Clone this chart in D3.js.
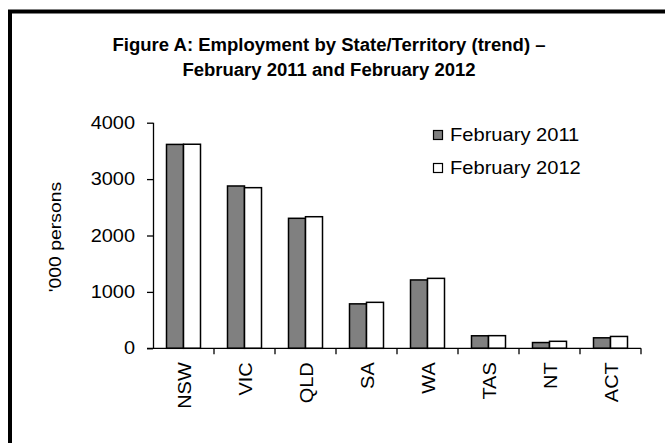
<!DOCTYPE html>
<html>
<head>
<meta charset="utf-8">
<script src="https://cdn.jsdelivr.net/npm/d3@7"></script>
<style>
  html, body { margin: 0; padding: 0; background: #fff; }
  svg { display: block; font-family: "Liberation Sans", Arial, sans-serif; }
</style>
</head>
<body>
<svg id="chart" width="665" height="443"></svg>
<script>
// Employment by state/territory, thousands of persons (trend)
const states = ["NSW", "VIC", "QLD", "SA", "WA", "TAS", "NT", "ACT"];
const feb2011 = [3615, 2878, 2305, 788, 1212, 222, 102, 186];
const feb2012 = [3618, 2848, 2333, 815, 1240, 224, 124, 210];
const seriesNames = ["February 2011", "February 2012"];
const yTicks = [0, 1000, 2000, 3000, 4000];

const svg = d3.select("#chart");
const W = 665, H = 443;
const SX = 1.14; // body text in this figure is set slightly wide

svg.append("rect").attr("width", W).attr("height", H).attr("fill", "#fff");

// outer frame (runs past the right and bottom edges)
svg.append("rect")
  .attr("x", 10).attr("y", 11.5)
  .attr("width", 680).attr("height", 460)
  .attr("fill", "none").attr("stroke", "#000").attr("stroke-width", 4);

// title
const titleG = svg.append("g").attr("transform", `translate(329,0) scale(0.975,1)`);
const title = titleG.append("text")
  .attr("text-anchor", "middle")
  .attr("font-weight", "bold")
  .attr("font-size", 19)
  .attr("fill", "#000");
title.append("tspan").attr("x", 0).attr("y", 51.5).text("Figure A: Employment by State/Territory (trend) –");
title.append("tspan").attr("x", 0).attr("y", 76).text("February 2011 and February 2012");

const margin = { left: 153, right: 641, top: 122.7, bottom: 348.3 };

const x = d3.scaleBand().domain(states).range([margin.left, margin.right]).paddingInner(0).paddingOuter(0);
const y = d3.scaleLinear().domain([0, 4000]).range([margin.bottom, margin.top]);

const groupPad = 13.5;
const x1 = d3.scaleBand().domain(seriesNames)
  .range([groupPad, x.bandwidth() - groupPad]).padding(0);

const colors = { "February 2011": "#808080", "February 2012": "#ffffff" };

const rows = states.map((s, i) => ({ state: s, values: [feb2011[i], feb2012[i]] }));

const groups = svg.append("g").selectAll("g").data(rows).join("g")
  .attr("transform", d => `translate(${x(d.state)},0)`);

groups.selectAll("rect")
  .data(d => d.values.map((v, j) => ({ name: seriesNames[j], value: v })))
  .join("rect")
  .attr("x", d => x1(d.name))
  .attr("y", d => y(d.value))
  .attr("width", x1.bandwidth())
  .attr("height", d => y(0) - y(d.value))
  .attr("fill", d => colors[d.name])
  .attr("stroke", "#000")
  .attr("stroke-width", 1.5);

// y axis
const yAxis = svg.append("g")
  .attr("transform", `translate(${margin.left},0)`)
  .call(d3.axisLeft(y).tickValues(yTicks).tickSize(6).tickFormat(d3.format("d")));
yAxis.select(".domain").attr("stroke", "#000").attr("stroke-width", 1.3)
  .attr("d", `M0.5,${margin.top}V${margin.bottom}`);
yAxis.selectAll(".tick line").attr("stroke", "#000").attr("stroke-width", 1.3);
yAxis.selectAll(".tick text")
  .attr("x", 0)
  .attr("transform", `translate(-18,0) scale(${SX},1)`)
  .attr("font-size", 17.5).attr("fill", "#000")
  .attr("font-family", "Liberation Sans, Arial, sans-serif");

// x axis: ticks sit on category boundaries
const xAxisG = svg.append("g").attr("transform", `translate(0,${margin.bottom})`);
xAxisG.append("line")
  .attr("x1", margin.left - 6).attr("x2", margin.right)
  .attr("y1", 0).attr("y2", 0)
  .attr("stroke", "#000").attr("stroke-width", 1.3);
const bounds = states.map(s => x(s) + x.bandwidth());
xAxisG.selectAll("line.tk").data(bounds).join("line").attr("class", "tk")
  .attr("x1", d => d).attr("x2", d => d)
  .attr("y1", 0).attr("y2", 6)
  .attr("stroke", "#000").attr("stroke-width", 1.3);

xAxisG.selectAll("text.lbl").data(states).join("text").attr("class", "lbl")
  .attr("transform", d => `translate(${x(d) + x.bandwidth() / 2 + 1.5},14) rotate(-90) scale(${SX},1)`)
  .attr("text-anchor", "end")
  .attr("dy", "0.35em")
  .attr("font-size", 17.5)
  .attr("fill", "#000")
  .text(d => d);

// y axis title
svg.append("text")
  .attr("transform", `translate(55,237) rotate(-90) scale(${SX},1)`)
  .attr("text-anchor", "middle")
  .attr("dy", "0.35em")
  .attr("font-size", 17)
  .attr("fill", "#000")
  .text("'000 persons");

// legend
const legend = svg.append("g").selectAll("g").data(seriesNames).join("g")
  .attr("transform", (d, i) => `translate(433,${135 + i * 33})`);
legend.append("rect")
  .attr("x", 0.5).attr("y", -4.5).attr("width", 9).attr("height", 9)
  .attr("fill", d => colors[d]).attr("stroke", "#000").attr("stroke-width", 1.2);
legend.append("text")
  .attr("transform", `translate(17,0) scale(${SX + 0.01},1)`)
  .attr("dy", "0.35em")
  .attr("font-size", 17.5)
  .attr("fill", "#000")
  .text(d => d);
</script>
</body>
</html>
